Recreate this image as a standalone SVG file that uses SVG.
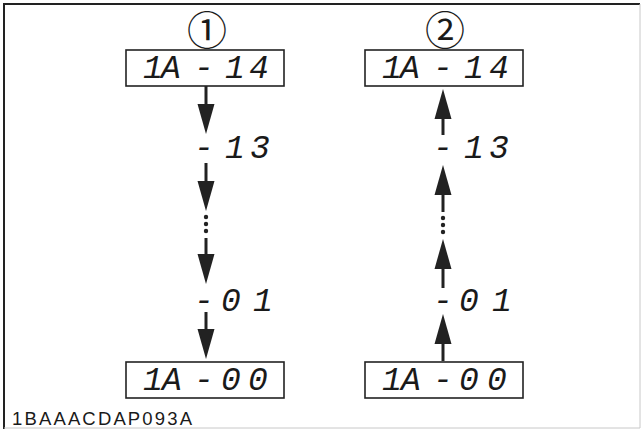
<svg xmlns="http://www.w3.org/2000/svg" width="642" height="431" viewBox="0 0 642 431">
<style>
.box{fill:#fff;stroke:#222;stroke-width:1.6}
.seg{font-family:"Liberation Mono","DejaVu Sans Mono",monospace;font-style:italic;font-size:33px;fill:#1a1a1a;text-anchor:middle}
.num{font-family:"Noto Sans CJK JP","DejaVu Sans",sans-serif;font-size:40px;fill:#1a1a1a;text-anchor:middle}
.ln{stroke:#222;stroke-width:3;fill:none}
.ln.a{marker-end:url(#ah)}
.dot{fill:#222}
.lbl{font-family:"Liberation Sans",Arial,sans-serif;font-size:18.5px;fill:#1a1a1a}
</style>
<defs>
<marker id="ah" viewBox="0 -9 30 18" markerWidth="30" markerHeight="18" refX="1" refY="0" orient="auto" markerUnits="userSpaceOnUse">
<path d="M0,-8.5 L30,0 L0,8.5 Z" fill="#222"/>
</marker>
</defs>
<rect x="0" y="0" width="642" height="431" fill="#fff"/>
<path d="M4,429 L4,4 L640,4" fill="none" stroke="#222" stroke-width="2"/>
<path d="M640,4 L640,428 L4,428" fill="none" stroke="#c8c8c8" stroke-width="1"/>

<g id="label1"><text class="num" x="207" y="45">①</text></g>
<g id="label2"><text class="num" x="445" y="45">②</text></g>

<g id="n1-14">
<rect class="box" x="126" y="50" width="158" height="36"/>
<text class="seg" x="153 171 187 204 220 235 259" y="78">1A - 14</text>
</g>
<g id="n1-13">
<text class="seg" x="204 220 235 260" y="158">- 13</text>
</g>
<g id="n1-01">
<text class="seg" x="204 220 231 263" y="311">- 01</text>
</g>
<g id="n1-00">
<rect class="box" x="126" y="362" width="158" height="36"/>
<text class="seg" x="153 172 188 204 217 231 258" y="390">1A - 00</text>
</g>

<g id="n2-14">
<rect class="box" x="365" y="50" width="158" height="36"/>
<text class="seg" x="392 410 426 443 459 474 499" y="78">1A - 14</text>
</g>
<g id="n2-13">
<text class="seg" x="443 459 474 499" y="158">- 13</text>
</g>
<g id="n2-01">
<text class="seg" x="443 459 469 502" y="311">- 01</text>
</g>
<g id="n2-00">
<rect class="box" x="365" y="362" width="158" height="36"/>
<text class="seg" x="392 411 427 443 456 469 497" y="390">1A - 00</text>
</g>

<g id="connectors">
<line class="ln a" x1="206" y1="86" x2="206" y2="105"/>
<line class="ln a" x1="206" y1="163" x2="206" y2="182"/>
<circle class="dot" cx="206" cy="217" r="2.2"/>
<circle class="dot" cx="206" cy="224" r="2.2"/>
<circle class="dot" cx="206" cy="231" r="2.2"/>
<line class="ln a" x1="206" y1="238" x2="206" y2="255"/>
<line class="ln a" x1="206" y1="312" x2="206" y2="330"/>

<line class="ln a" x1="443" y1="361" x2="443" y2="343"/>
<line class="ln a" x1="443" y1="288" x2="443" y2="268"/>
<circle class="dot" cx="443" cy="218" r="2.2"/>
<circle class="dot" cx="443" cy="225" r="2.2"/>
<circle class="dot" cx="443" cy="232" r="2.2"/>
<line class="ln a" x1="443" y1="212" x2="443" y2="194"/>
<line class="ln a" x1="443" y1="135" x2="443" y2="118"/>
</g>

<text class="lbl" x="12" y="425" textLength="180" lengthAdjust="spacing">1BAAACDAP093A</text>
</svg>
